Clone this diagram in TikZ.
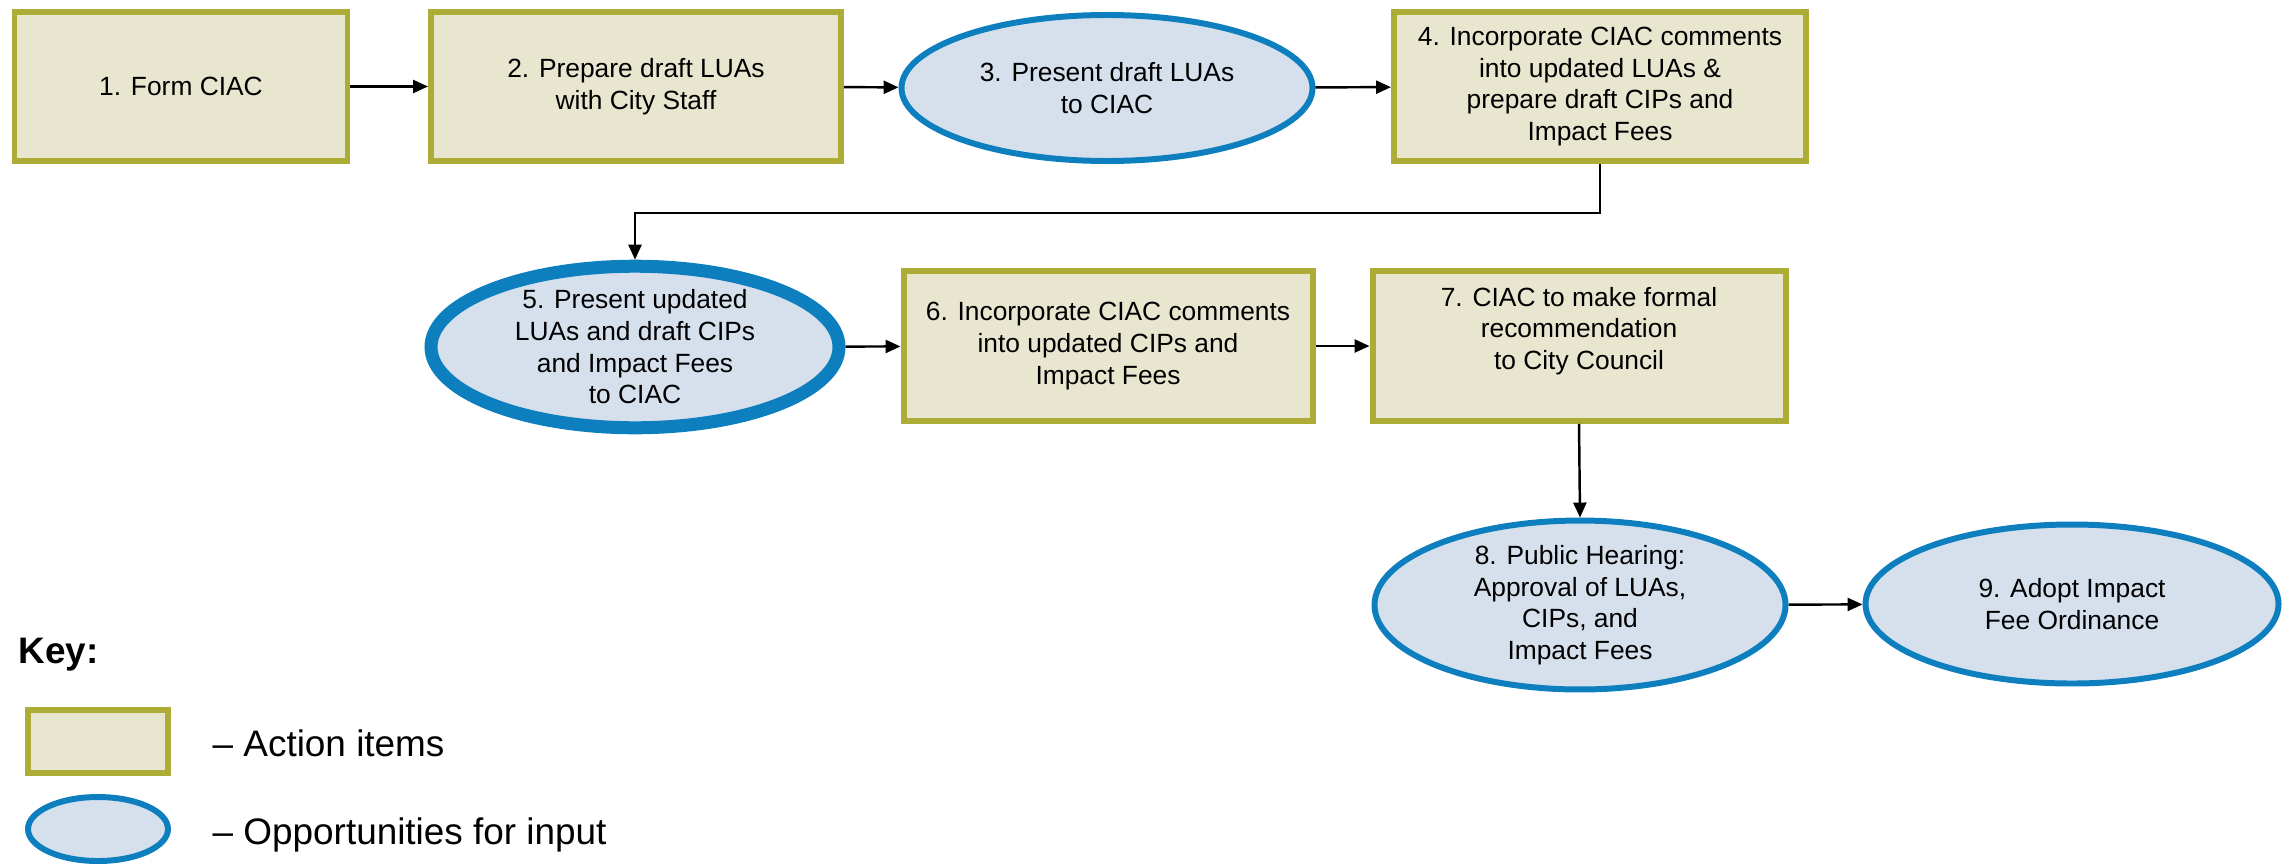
\documentclass[tikz,border=0pt]{standalone}
\usepackage{fontspec}
\setmainfont{Liberation Sans}
\usepackage{xcolor}
\usepackage{tikz}
\usetikzlibrary{positioning,arrows.meta,calc,shapes.geometric}

\definecolor{actfill}{RGB}{233,230,208}
\definecolor{actline}{RGB}{172,172,54}
\definecolor{inpfill}{RGB}{214,224,237}
\definecolor{inpline}{RGB}{13,127,190}

\begin{document}
\begin{tikzpicture}[
  font=\fontsize{7.5}{9}\selectfont, >={Triangle[length=1.5mm,width=1.3mm]},
  act/.style={draw=actline, fill=actfill, line width=1.7pt, align=center, inner sep=0pt, minimum height=1.49cm},
  inp/.style={ellipse, draw=inpline, fill=inpfill, line width=1.7pt, align=center, inner sep=0pt},
  big/.style={line width=3.7pt},
  arr/.style={->, line width=0.7pt},
  keytxt/.style={font=\fontsize{10.5}{12.6}\selectfont, anchor=west, inner sep=0pt},
]
\useasboundingbox (0,0) rectangle (22.93,-8.66);
% top row
\node[act, minimum width=3.33cm] (b1) at (1.81,-0.865) {1. Form CIAC};
\node[act, minimum width=4.10cm] (b2) at (6.36,-0.865) {2. Prepare draft LUAs\\with City Staff};
\node[inp, minimum width=4.11cm, minimum height=1.46cm] (e3) at (11.07,-0.88) {3. Present draft LUAs\\to CIAC};
\node[act, minimum width=4.12cm] (b4) at (16.00,-0.865) {4. Incorporate CIAC comments\\into updated LUAs \&\\prepare draft CIPs and\\Impact Fees};
% middle row
\node[inp, big, minimum width=4.08cm, minimum height=1.49cm] (e5) at (6.35,-3.47) {5. Present updated\\LUAs and draft CIPs\\and Impact Fees\\to CIAC};
\node[act, minimum width=4.09cm, minimum height=1.50cm] (b6) at (11.08,-3.46) {6. Incorporate CIAC comments\\into updated CIPs and\\Impact Fees};
\node[act, minimum width=4.13cm, minimum height=1.50cm] (b7) at (15.79,-3.46) {7. CIAC to make formal\\recommendation\\to City Council\\[1pt]};
% bottom row
\node[inp, minimum width=4.11cm, minimum height=1.57cm] (e8) at (15.80,-6.05) {8. Public Hearing:\\Approval of LUAs,\\CIPs, and\\Impact Fees};
\node[inp, minimum width=4.13cm, minimum height=1.59cm] (e9) at (20.72,-6.04) {9. Adopt Impact\\Fee Ordinance};
% connectors
\draw[arr] (b1) -- (b2);
\draw[arr] (b2) -- (e3);
\draw[arr] (e3) -- (b4);
\coordinate (turn) at ($(b4.south)+(0,-0.49)$);
\draw[arr] (b4.south) -- (turn) -| (e5.north);
\draw[arr] (e5) -- (b6);
\draw[arr] (b6) -- (b7);
\draw[arr] (b7.south) -- (e8.north);
\draw[arr] (e8) -- (e9);
% key
\node[keytxt, font=\fontsize{10.5}{12.6}\selectfont\bfseries] (key) at (0.18,-6.55) {Key:};
\node[act, minimum width=1.40cm, minimum height=0.63cm] (kact) at (0.98,-7.41) {};
\node[keytxt] (tact) at (2.12,-7.43) {-- Action items};
\node[inp, minimum width=1.40cm, minimum height=0.64cm] (kinp) at (0.98,-8.29) {};
\node[keytxt] (tinp) at (2.12,-8.35) {-- Opportunities for input};
\end{tikzpicture}
\end{document}
